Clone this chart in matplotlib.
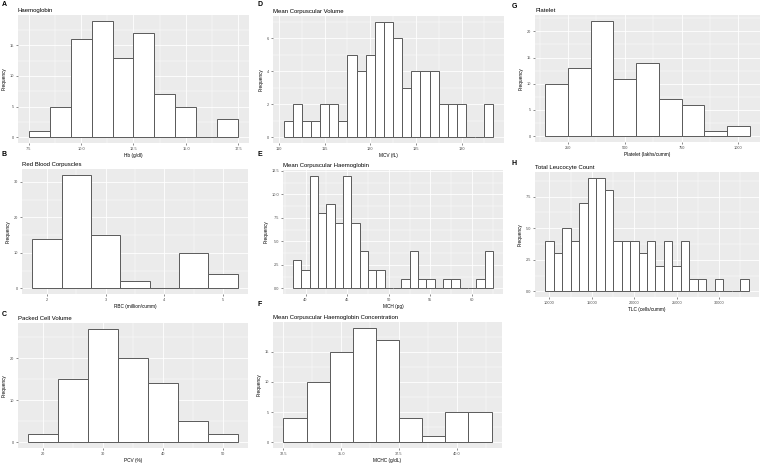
import numpy as np
import matplotlib
matplotlib.use("Agg")
import matplotlib.pyplot as plt
from matplotlib.ticker import AutoMinorLocator, FixedLocator

plt.rcParams['font.family'] = ['Liberation Sans', 'DejaVu Sans']

# -------------------------
# Histogram data (bin edges + counts)
# -------------------------
hb_edges = np.arange(7.5, 18.0, 1.0)
hb_counts = [1, 5, 16, 19, 13, 17, 7, 5, 0, 3]

rbc_edges = np.arange(1.75, 5.5, 0.5)
rbc_counts = [14, 32, 15, 2, 0, 10, 4]

pcv_edges = np.arange(17.5, 55.0, 5.0)
pcv_counts = [2, 15, 27, 20, 14, 5, 2]

mcv_edges = np.arange(110.5, 134.0, 1.0)
mcv_counts = [1, 2, 1, 1, 2, 2, 1, 5, 4, 5, 7, 7, 6, 3, 4, 4, 4, 2, 2, 2, 0, 0, 2]

mch_edges = np.arange(38.5, 63.0, 1.0)
mch_counts = [3, 2, 12, 8, 9, 7, 12, 7, 4, 2, 2, 0, 0, 1, 4, 1, 1, 0, 1, 1, 0, 0, 1, 4]

mchc_edges = np.arange(32.5, 42.0, 1.0)
mchc_counts = [4, 10, 15, 19, 17, 4, 1, 5, 5]

plt_edges = np.arange(150, 1100, 100)
plt_counts = [10, 13, 22, 11, 14, 7, 6, 1, 2]

tlc_edges = np.arange(9500, 34000, 1000)
tlc_counts = [4, 3, 5, 4, 7, 9, 9, 8, 4, 4, 4, 3, 4, 2, 4, 2, 4, 1, 1, 0, 1, 0, 0, 1]

W, H = 767, 463
fig = plt.figure(figsize=(W / 100, H / 100), dpi=100)
fig.patch.set_facecolor("white")


def px_axes(x0, y0, x1, y1):
    return fig.add_axes([x0 / W, 1 - y1 / H, (x1 - x0) / W, (y1 - y0) / H])


def panel(box, letter, letter_xy, title, xlabel, edges, counts, xticks, xlabels, yticks, ylabels):
    ax = px_axes(*box)
    ax.set_facecolor("#EBEBEB")
    edges = np.asarray(edges, dtype=float)
    widths = np.diff(edges)
    ax.bar(edges[:-1], counts, width=widths, align="edge", color="white",
           edgecolor="#5a5a5a", linewidth=0.7, zorder=3)

    # ggplot style limits (5% expansion)
    xr = edges[-1] - edges[0]
    ax.set_xlim(edges[0] - 0.05 * xr, edges[-1] + 0.05 * xr)
    ym = max(counts)
    ax.set_ylim(-0.05 * ym, ym * 1.05)

    ax.xaxis.set_major_locator(FixedLocator(xticks))
    ax.yaxis.set_major_locator(FixedLocator(yticks))
    ax.set_xticklabels(xlabels)
    ax.set_yticklabels(ylabels)
    ax.xaxis.set_minor_locator(AutoMinorLocator(2))
    ax.yaxis.set_minor_locator(AutoMinorLocator(2))
    ax.grid(which="major", color="white", linewidth=0.6, zorder=0)
    ax.grid(which="minor", color="white", linewidth=0.3, zorder=0)
    ax.set_axisbelow(True)
    for s in ax.spines.values():
        s.set_visible(False)
    ax.tick_params(which="major", length=1.5, width=0.4, color="#333333",
                   labelsize=2.8, labelcolor="#4D4D4D", pad=1.5)
    ax.tick_params(which="minor", length=0)

    ax.set_xlabel(xlabel, fontsize=3.4, labelpad=1.5)
    ax.set_ylabel("Frequency", fontsize=3.4, labelpad=2)
    ax.set_title(title, fontsize=4.3, loc="left", pad=2.5, x=0.0)
    fig.text(letter_xy[0] / W, 1 - letter_xy[1] / H, letter, fontsize=5,
             fontweight="bold", va="top", ha="left")
    return ax


panel((18, 15, 249, 143), "A", (2, 1), "Haemoglobin", "Hb (g/dl)",
      hb_edges, hb_counts, [7.5, 10, 12.5, 15, 17.5],
      ["7.5", "10.0", "12.5", "15.0", "17.5"], [0, 5, 10, 15], ["0", "5", "10", "15"])

panel((22, 169, 248, 294), "B", (2, 151), "Red Blood Corpuscles", "RBC (million/cumm)",
      rbc_edges, rbc_counts, [2, 3, 4, 5], ["2", "3", "4", "5"],
      [0, 10, 20, 30], ["0", "10", "20", "30"])

panel((18, 323, 248, 448), "C", (2, 311), "Packed Cell Volume", "PCV (%)",
      pcv_edges, pcv_counts, [20, 30, 40, 50], ["20", "30", "40", "50"],
      [0, 10, 20], ["0", "10", "20"])

panel((273, 16, 504, 143), "D", (257, 1), "Mean Corpuscular Volume", "MCV (fL)",
      mcv_edges, mcv_counts, [110, 115, 120, 125, 130], ["110", "115", "120", "125", "130"],
      [0, 2, 4, 6], ["0", "2", "4", "6"])

panel((283, 170, 503, 294), "E", (257, 151), "Mean Corpuscular Haemoglobin", "MCH (pg)",
      mch_edges, mch_counts, [40, 45, 50, 55, 60], ["40", "45", "50", "55", "60"],
      [0, 2.5, 5, 7.5, 10, 12.5], ["0.0", "2.5", "5.0", "7.5", "10.0", "12.5"])

panel((273, 322, 502, 448), "F", (257, 301), "Mean Corpuscular Haemoglobin Concentration",
      "MCHC (g/dL)", mchc_edges, mchc_counts, [32.5, 35, 37.5, 40],
      ["32.5", "35.0", "37.5", "40.0"], [0, 5, 10, 15], ["0", "5", "10", "15"])

panel((535, 15, 760, 142), "G", (512, 3), "Platelet", "Platelet (lakhs/cumm)",
      plt_edges, plt_counts, [250, 500, 750, 1000], ["250", "500", "750", "1000"],
      [0, 5, 10, 15, 20], ["0", "5", "10", "15", "20"])

panel((535, 172, 759, 297), "H", (512, 160), "Total Leucocyte Count", "TLC (cells/cumm)",
      tlc_edges, tlc_counts, [10000, 15000, 20000, 25000, 30000],
      ["10000", "15000", "20000", "25000", "30000"],
      [0, 2.5, 5, 7.5], ["0.0", "2.5", "5.0", "7.5"])

fig.savefig("out.png", dpi=100)
